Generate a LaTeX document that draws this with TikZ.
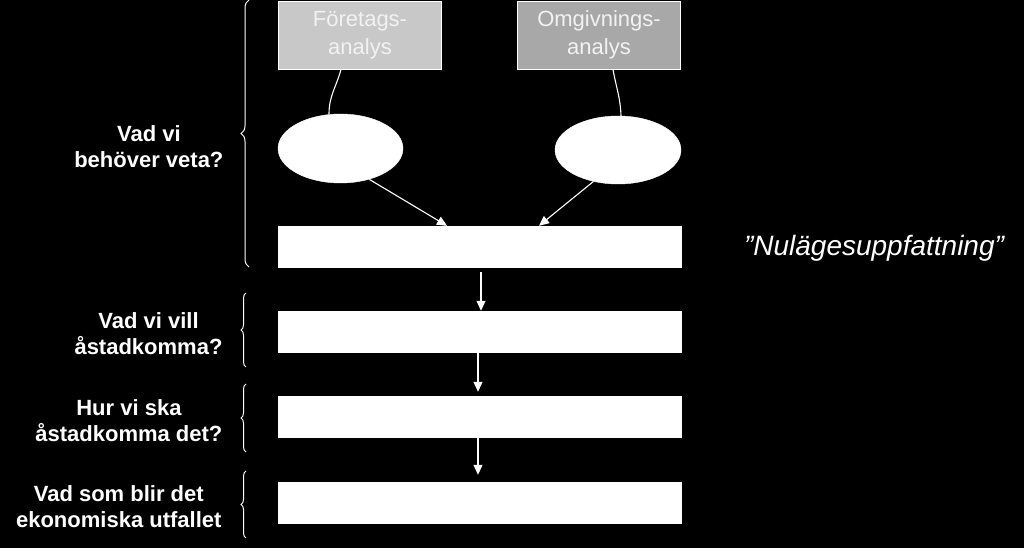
\documentclass[tikz,border=0pt]{standalone}
\usepackage{fontspec}
\setmainfont{Liberation Sans}
\usetikzlibrary{shapes.geometric,decorations.pathreplacing,arrows.meta}
\definecolor{graylight}{HTML}{C8C8C8}
\definecolor{graydark}{HTML}{A8A8A8}
\definecolor{txtlight}{HTML}{F2F2F2}
\tikzset{
  anabox/.style={draw=white, line width=0.8pt, minimum width=163pt, minimum height=68pt, inner sep=0pt, align=center, text=txtlight, font=\fontsize{22}{28}\selectfont},
  oval/.style={ellipse, fill=white, draw=white, inner sep=0pt},
  bar/.style={fill=white, draw=white, minimum width=403pt, minimum height=41pt, inner sep=0pt},
  lbl/.style={anchor=east, align=center, text=white, font=\bfseries\fontsize{22}{26}\selectfont},
  link/.style={draw=white, line width=1.1pt},
  arr/.style={draw=white, line width=1.1pt, -{Triangle[width=9pt,length=10pt]}},
  brc/.style={draw=white, line width=1pt, decorate, decoration={brace, amplitude=#1}}
}
\begin{document}
\begin{tikzpicture}[x=1pt,y=-1pt]
\fill[black] (0,0) rectangle (1024,548);
\useasboundingbox (0,0) rectangle (1024,548);

% top analysis boxes
\node[anabox, fill=graylight] (fa) at (360,35) {Företags-\\analys};
\node[anabox, fill=graydark] (oa) at (599,35) {Omgivnings-\\analys};

% ellipses
\node[oval, minimum width=125pt, minimum height=69pt] (e1) at (340.5,148.5) {};
\node[oval, minimum width=126pt, minimum height=68pt] (e2) at (618,150) {};

% bars
\node[bar] (r1) at (479.5,246.5) {};
\node[bar] (r2) at (479.5,331.5) {};
\node[bar] (r3) at (479.5,416.5) {};
\node[bar] (r4) at (479.5,502.5) {};

% connectors
\draw[link] ([xshift=-19pt]fa.south) to[out=-105,in=90] ([xshift=-11.5pt]e1.north);
\draw[link] ([xshift=14pt]oa.south) to[out=-80,in=92] ([xshift=3pt]e2.north);
\draw[arr] (e1.-47) -- ([xshift=-32.5pt]r1.north);
\draw[arr] (e2.-128) -- ([xshift=59.5pt]r1.north);
\draw[arr, shorten <=5pt] ([xshift=1.5pt]r1.south) -- ([xshift=1.5pt]r2.north);
\draw[arr, shorten >=4pt] ([xshift=-1.5pt]r2.south) -- ([xshift=-1.5pt]r3.north);
\draw[arr, shorten >=7pt] ([xshift=-1.5pt]r3.south) -- ([xshift=-1.5pt]r4.north);

% braces
\draw[brc=8pt] (249,267) -- (249,0);
\draw[brc=5pt] (246,367) -- (246,293);
\draw[brc=5pt] (246,452) -- (246,384);
\draw[brc=5pt] (246,538) -- (246,471);

% labels
\node[lbl] (l1) at (227,147) {Vad vi\\behöver veta?};
\node[lbl] (l2) at (226,334) {Vad vi vill\\åstadkomma?};
\node[lbl] (l3) at (226,421) {Hur vi ska\\åstadkomma det?};
\node[lbl] (l4) at (225,507) {Vad som blir det\\ekonomiska utfallet};

\node[text=white, font=\itshape\fontsize{28}{32}\selectfont] (nu) at (874,248) {”Nulägesuppfattning”};
\end{tikzpicture}
\end{document}
